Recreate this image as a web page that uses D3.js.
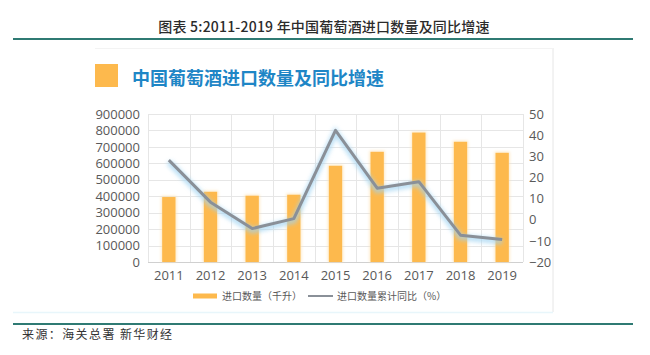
<!DOCTYPE html>
<html><head><meta charset="utf-8">
<script src="https://cdn.jsdelivr.net/npm/d3@7"></script>
<style>html,body{margin:0;padding:0;background:#fff;}svg{display:block;}</style>
</head><body>
<script>
const years = ["2011","2012","2013","2014","2015","2016","2017","2018","2019"];
const volume = [395000, 427000, 403000, 409000, 585000, 670000, 787000, 731000, 664000];
const growth = [28.2, 8.3, -4.2, 0.5, 42.3, 14.9, 18.0, -7.3, -9.4];
const leftTicks = [0,100000,200000,300000,400000,500000,600000,700000,800000,900000];
const rightTicks = [-20,-10,0,10,20,30,40,50];
const mainTitle = "图表 5:2011-2019 年中国葡萄酒进口数量及同比增速";
const subTitle = "中国葡萄酒进口数量及同比增速";
const legendLabels = ["进口数量（千升）","进口数量累计同比（%）"];
const source = "来源：海关总署 新华财经";

const W = 650, H = 355;
const svg = d3.select("body").append("svg").attr("width", W).attr("height", H);
const defs = svg.append("defs");
const f = defs.append("filter").attr("id","glow").attr("x","-20%").attr("y","-20%").attr("width","140%").attr("height","140%");
f.append("feGaussianBlur").attr("stdDeviation", 2);
const fb = defs.append("filter").attr("id","barglow").attr("x","-50%").attr("y","-10%").attr("width","200%").attr("height","120%");
fb.append("feGaussianBlur").attr("stdDeviation", 1.5);

const font = "'Noto Sans CJK SC', 'Noto Sans', sans-serif";
const axisFont = "'Open Sans', 'Noto Sans', sans-serif";

// header
svg.append("text").attr("x", 324).attr("y", 32).attr("text-anchor","middle")
  .attr("font-family", font).attr("font-size", 14).attr("font-weight", 500)
  .attr("letter-spacing", 0.2).attr("fill","#2b2b2b").text(mainTitle);
svg.append("line").attr("x1",13).attr("x2",633).attr("y1",39).attr("y2",39)
  .attr("stroke","#2f7a73").attr("stroke-width",2);
svg.append("line").attr("x1",13).attr("x2",633).attr("y1",324).attr("y2",324)
  .attr("stroke","#2f7a73").attr("stroke-width",2);
svg.append("text").attr("x", 22).attr("y", 339)
  .attr("font-family", font).attr("font-size", 12).attr("letter-spacing", 1.4)
  .attr("fill","#333").text(source);

// panel
svg.append("line").attr("x1",553).attr("x2",553).attr("y1",48).attr("y2",312)
  .attr("stroke","#e6e6e6").attr("stroke-width",1);
svg.append("line").attr("x1",95).attr("x2",553).attr("y1",48.5).attr("y2",48.5)
  .attr("stroke","#f3f3f3").attr("stroke-width",1);
svg.append("line").attr("x1",13).attr("x2",553).attr("y1",312.5).attr("y2",312.5)
  .attr("stroke","#e8f6fb").attr("stroke-width",1.5);

svg.append("rect").attr("x",95).attr("y",64).attr("width",23).attr("height",23).attr("fill","#FDB94D");
svg.append("text").attr("x",132).attr("y",84.5)
  .attr("font-family", font).attr("font-size",18).attr("font-weight","bold")
  .attr("fill","#1e86c6").text(subTitle);

// chart
const mLeft = 148, mRight = 523, mTop = 114, mBottom = 262;
const x = d3.scaleBand().domain(years).range([mLeft, mRight]).paddingInner(0).paddingOuter(0);
const yL = d3.scaleLinear().domain([0, 900000]).range([mBottom, mTop]);
const yR = d3.scaleLinear().domain([-20, 50]).range([mBottom, mTop]);

const grid = svg.append("g");
grid.selectAll(".h").data(leftTicks).join("line")
  .attr("x1", mLeft).attr("x2", mRight)
  .attr("y1", d => Math.round(yL(d))+0.5).attr("y2", d => Math.round(yL(d))+0.5)
  .attr("stroke", d => d===0 ? "#d0d0d0" : "#e6e6e6").attr("stroke-width",1);
const vx = years.map(d => x(d)).concat([mRight]);
grid.selectAll(".v").data(vx).join("line")
  .attr("x1", d => Math.round(d)+0.5).attr("x2", d => Math.round(d)+0.5)
  .attr("y1", mTop).attr("y2", mBottom)
  .attr("stroke","#e6e6e6").attr("stroke-width",1);

const barW = 13.3;
svg.append("g").attr("filter","url(#barglow)").selectAll("rect").data(volume).join("rect")
  .attr("x", (d,i) => x(years[i]) + x.bandwidth()/2 - barW/2 - 1)
  .attr("width", barW + 2)
  .attr("y", d => yL(d) - 1).attr("height", d => mBottom - yL(d) + 1)
  .attr("fill","#fde3b5").attr("opacity",0.8);
svg.append("g").selectAll("rect").data(volume).join("rect")
  .attr("x", (d,i) => x(years[i]) + x.bandwidth()/2 - barW/2)
  .attr("width", barW)
  .attr("y", d => yL(d)).attr("height", d => mBottom - yL(d))
  .attr("fill","#FDB94D");

// axes
const axL = d3.axisLeft(yL).tickValues(leftTicks).tickSize(0).tickPadding(8).tickFormat(d3.format("d"));
const gL = svg.append("g").attr("transform",`translate(${mLeft},0)`).call(axL);
const axR = d3.axisRight(yR).tickValues(rightTicks).tickSize(0).tickPadding(6).tickFormat(d3.format("d"));
const gR = svg.append("g").attr("transform",`translate(${mRight},0)`).call(axR);
const axB = d3.axisBottom(x).tickSize(0).tickPadding(9);
const gB = svg.append("g").attr("transform",`translate(0,${mBottom})`).call(axB);
[gL,gR,gB].forEach(g => {
  g.select(".domain").remove();
  g.selectAll("text").attr("font-family", axisFont).attr("font-size", 13).attr("fill","#595959");
});

// line
const line = d3.line().x((d,i) => x(years[i]) + x.bandwidth()/2).y(d => yR(d));
svg.append("path").datum(growth).attr("d", line).attr("fill","none")
  .attr("stroke","#9fd3f2").attr("stroke-width",6).attr("opacity",0.7).attr("filter","url(#glow)")
  .attr("transform","translate(0,2)");
svg.append("path").datum(growth).attr("d", line).attr("fill","none")
  .attr("stroke","#8a9098").attr("stroke-width",3).attr("stroke-linejoin","round");

// legend
const lg = svg.append("g");
lg.append("rect").attr("x",193).attr("y",293.5).attr("width",24).attr("height",5).attr("fill","#FDB94D");
lg.append("text").attr("x",222).attr("y",300).attr("font-family",font).attr("font-size",10)
  .attr("fill","#595959").text(legendLabels[0]);
lg.append("line").attr("x1",308).attr("x2",333).attr("y1",296).attr("y2",296)
  .attr("stroke","#8a9098").attr("stroke-width",2);
lg.append("text").attr("x",337).attr("y",300).attr("font-family",font).attr("font-size",10)
  .attr("fill","#595959").text(legendLabels[1]);
</script>
</body></html>
